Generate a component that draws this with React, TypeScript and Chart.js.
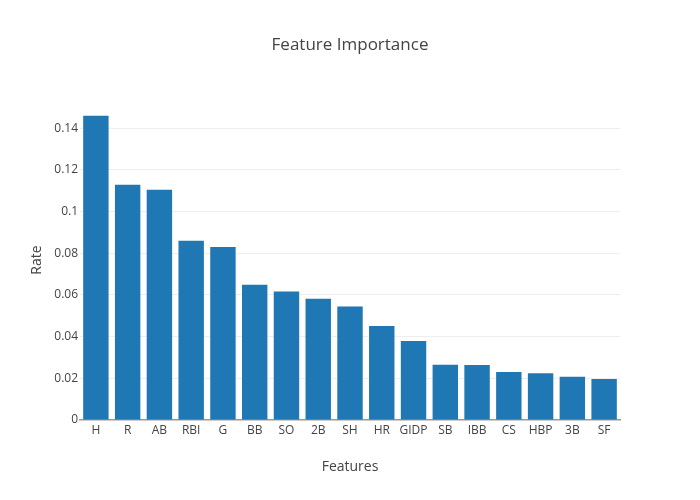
import React, { useEffect, useRef } from "react";
import { Chart, registerables } from "chart.js";

Chart.register(...registerables);

const features = ["H", "R", "AB", "RBI", "G", "BB", "SO", "2B", "SH", "HR", "GIDP", "SB", "IBB", "CS", "HBP", "3B", "SF"];
const rates = [0.146, 0.1128, 0.1104, 0.086, 0.083, 0.0649, 0.0616, 0.0582, 0.0545, 0.0451, 0.0379, 0.0265, 0.0264, 0.023, 0.0224, 0.0208, 0.0197];
const yTickStep = 0.02;
const yMax = 0.1535;

const FONT = "'Open Sans', sans-serif";

const titlesPlugin = {
  id: "titlesPlugin",
  afterDraw(chart: any) {
    const ctx = chart.ctx;
    ctx.save();
    ctx.fillStyle = "#444";
    ctx.textAlign = "center";
    ctx.textBaseline = "middle";
    ctx.font = `17px ${FONT}`;
    ctx.fillText("Feature Importance", 350, 45);
    ctx.font = `14px ${FONT}`;
    ctx.fillText("Features", 350, 467);
    ctx.translate(37, 260);
    ctx.rotate(-Math.PI / 2);
    ctx.fillText("Rate", 0, 0);
    ctx.restore();
  },
};

export default function App() {
  const ref = useRef<HTMLCanvasElement | null>(null);
  useEffect(() => {
    document.body.style.margin = "0";
    if (!ref.current) return;
    const chart = new Chart(ref.current, {
      type: "bar",
      data: {
        labels: features,
        datasets: [
          {
            data: rates,
            backgroundColor: "#1f77b4",
            categoryPercentage: 1,
            barPercentage: 0.8,
          },
        ],
      },
      plugins: [titlesPlugin],
      options: {
        animation: false,
        responsive: false,
        devicePixelRatio: 1,
        layout: { padding: { top: 100, right: 80, left: 0, bottom: 0 } },
        plugins: { legend: { display: false }, title: { display: false }, tooltip: { enabled: false } },
        scales: {
          x: {
            afterFit(scale: any) {
              scale.height = 80;
            },
            grid: { display: false, drawTicks: false },
            border: { display: true, color: "#999", width: 1.5 },
            ticks: { color: "#444", font: { family: FONT, size: 12 }, padding: 3, maxRotation: 0, autoSkip: false },
          },
          y: {
            min: 0,
            max: yMax,
            afterFit(scale: any) {
              scale.width = 80;
            },
            afterBuildTicks(scale: any) {
              scale.ticks = scale.ticks.filter((t: any) => Math.abs(t.value / yTickStep - Math.round(t.value / yTickStep)) < 1e-6);
            },
            border: { display: false },
            grid: {
              color: (c: any) => (c.tick && c.tick.value === 0 ? "rgba(0,0,0,0)" : "#eee"),
              lineWidth: 1,
              drawTicks: false,
            },
            ticks: {
              stepSize: yTickStep,
              color: "#444",
              font: { family: FONT, size: 12 },
              padding: 2,
              callback: (v: any) => String(Number(Number(v).toFixed(2))),
            },
          },
        },
      },
    });
    return () => chart.destroy();
  }, []);
  return <canvas ref={ref} width={700} height={500} style={{ display: "block" }} />;
}
